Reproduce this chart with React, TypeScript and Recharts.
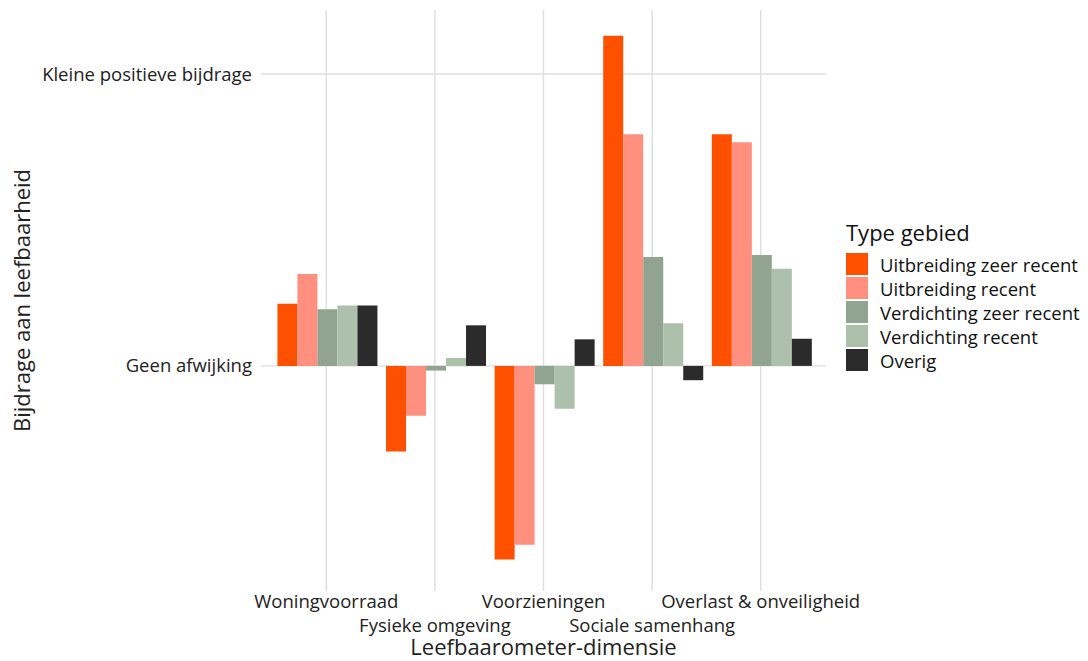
import { Bar, BarChart, CartesianGrid, Legend, XAxis, YAxis } from "recharts";

const categories = [
  "Woningvoorraad",
  "Fysieke omgeving",
  "Voorzieningen",
  "Sociale samenhang",
  "Overlast & onveiligheid",
];

// values relative to "Kleine positieve bijdrage" = 1
const uitbreidingZeerRecent = [0.213, -0.293, -0.663, 1.131, 0.793];
const uitbreidingRecent = [0.315, -0.171, -0.613, 0.793, 0.766];
const verdichtingZeerRecent = [0.194, -0.016, -0.063, 0.373, 0.38];
const verdichtingRecent = [0.207, 0.027, -0.147, 0.146, 0.333];
const overig = [0.207, 0.139, 0.091, -0.049, 0.093];

const yTicks = [0, 1];
const yTickLabels = ["Geen afwijking", "Kleine positieve bijdrage"];

const series = [
  { key: "uzr", name: "Uitbreiding zeer recent", color: "#ff5000" },
  { key: "ur", name: "Uitbreiding recent", color: "#ff9080" },
  { key: "vzr", name: "Verdichting zeer recent", color: "#91a48f" },
  { key: "vr", name: "Verdichting recent", color: "#adc0ab" },
  { key: "ov", name: "Overig", color: "#2b2b2b" },
];

const data = categories.map((c, i) => ({
  dim: c,
  uzr: uitbreidingZeerRecent[i],
  ur: uitbreidingRecent[i],
  vzr: verdichtingZeerRecent[i],
  vr: verdichtingRecent[i],
  ov: overig[i],
}));

const FONT = "'Open Sans', sans-serif";

const StaggeredTick = (props: any) => {
  const { x, y, payload, index } = props;
  const dy = index % 2 === 0 ? 1 : 25;
  return (
    <text
      x={x}
      y={y + dy}
      textAnchor="middle"
      dominantBaseline="central"
      fontFamily={FONT}
      fontSize={18.5}
      fill="#222"
    >
      {payload.value}
    </text>
  );
};

const LegendBox = () => (
  <div style={{ fontFamily: FONT, color: "#111" }}>
    <div style={{ fontSize: 22, lineHeight: "26px", marginBottom: 7 }}>Type gebied</div>
    {series.map((s) => (
      <div key={s.key} style={{ display: "flex", alignItems: "center", height: 24 }}>
        <span
          style={{
            display: "inline-block",
            width: 22,
            height: 22,
            background: s.color,
            marginRight: 12,
          }}
        />
        <span style={{ fontSize: 18.5, whiteSpace: "nowrap" }}>{s.name}</span>
      </div>
    ))}
  </div>
);

export default function App() {
  return (
    <div style={{ position: "absolute", left: 0, top: 0, background: "#fff" }}>
      <BarChart
        width={1088}
        height={661}
        data={data}
        margin={{ top: 10, right: 262, bottom: 0, left: 0 }}
        barCategoryGap="5%"
        barGap={0}
      >
        <CartesianGrid stroke="#dedede" strokeWidth={1.4} syncWithTicks />
        <XAxis
          dataKey="dim"
          height={70}
          axisLine={false}
          tickLine={false}
          interval={0}
          padding={{ left: 11, right: 11 }}
          tick={<StaggeredTick />}
          label={{
            value: "Leefbaarometer-dimensie",
            position: "insideBottom",
            offset: 6,
            fontFamily: FONT,
            fontSize: 22,
            fill: "#222",
          }}
        />
        <YAxis
          width={261}
          type="number"
          domain={[-0.771, 1.219]}
          allowDataOverflow
          ticks={yTicks}
          tickFormatter={(v: number) => yTickLabels[yTicks.indexOf(v)] ?? ""}
          axisLine={false}
          tickLine={false}
          tickSize={4}
          tickMargin={5}
          tick={{ fontFamily: FONT, fontSize: 18.5, fill: "#222" }}
          label={{
            value: "Bijdrage aan leefbaarheid",
            angle: -90,
            position: "insideLeft",
            offset: 22,
            style: { textAnchor: "middle" },
            fontFamily: FONT,
            fontSize: 22,
            fill: "#222",
          }}
        />
        <Legend
          layout="horizontal"
          verticalAlign="middle"
          content={<LegendBox />}
          wrapperStyle={{ position: "absolute", left: 846, top: 219, width: 242 }}
        />
        {series.map((s) => (
          <Bar
            key={s.key}
            dataKey={s.key}
            name={s.name}
            fill={s.color}
            isAnimationActive={false}
          />
        ))}
      </BarChart>
    </div>
  );
}
